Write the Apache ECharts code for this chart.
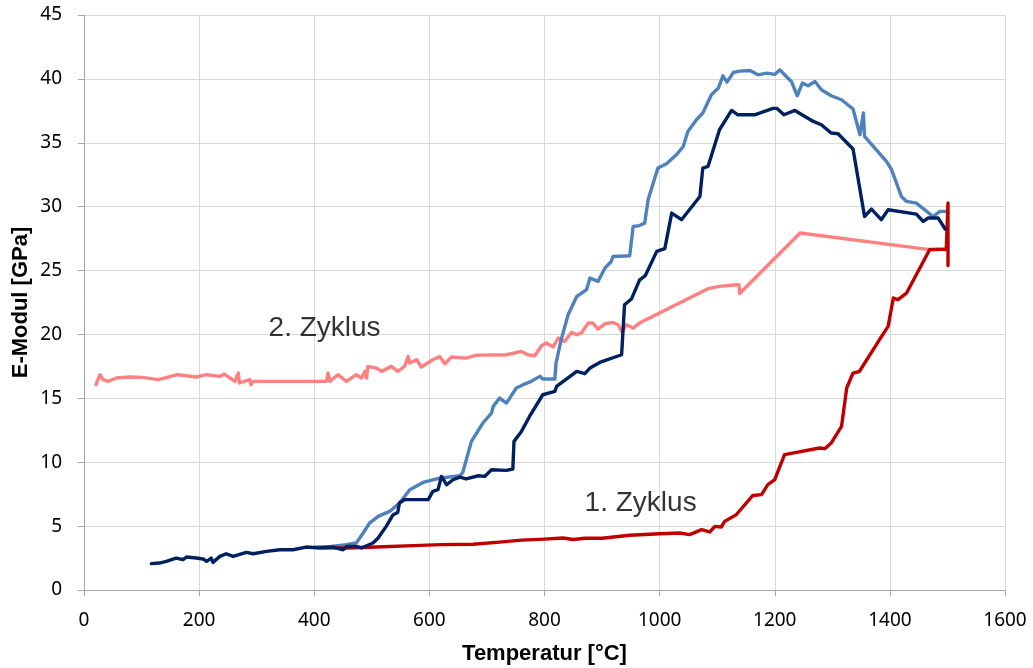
<!DOCTYPE html>
<html>
<head>
<meta charset="utf-8">
<script src="https://cdn.jsdelivr.net/npm/echarts@6/dist/echarts.min.js"></script>
<style>
  html, body { margin: 0; padding: 0; background: #fff; overflow: hidden; }
  #chart { width: 1033px; height: 668px; }
</style>
</head>
<body>
<div id="chart"></div>
<script>
// Temperature [°C] / E-modulus [GPa] pairs for each measurement run
const cycle1Red = [
  [415,3.30],[456,3.29],[520,3.38],[572,3.47],[620,3.55],[676,3.58],[722,3.75],[760,3.90],
  [800,3.98],[832,4.07],[850,3.95],[870,4.05],[900,4.05],[948,4.28],[1000,4.40],[1035,4.46],
  [1052,4.33],[1073,4.72],[1087,4.54],[1096,4.98],[1107,4.93],[1113,5.37],[1133,5.89],
  [1162,7.40],[1177,7.46],[1188,8.24],[1200,8.63],[1217,10.59],[1278,11.11],[1287,11.06],
  [1298,11.50],[1316,12.80],[1325,15.81],[1336,16.98],[1347,17.10],[1382,19.59],[1397,20.63],
  [1406,22.85],[1414,22.72],[1429,23.24],[1469,26.63],[1498,26.68],[1501,30.30],[1501,25.40],
  [1501,26.70]
];

const cycle2Pink = [
  [21,16.07],[24,16.46],[28,16.85],[33,16.46],[42,16.33],[56,16.59],[79,16.67],[102,16.64],
  [129,16.46],[163,16.85],[195,16.67],[213,16.85],[236,16.72],[244,16.90],[262,16.33],
  [268,16.98],[270,16.20],[288,16.46],[290,16.07],[294,16.33],[421,16.33],[424,16.98],
  [427,16.33],[441,16.85],[456,16.33],[473,16.85],[482,16.59],[488,17.11],[491,16.59],
  [493,17.50],[508,17.37],[517,17.11],[534,17.50],[545,17.11],[557,17.50],[563,18.28],
  [566,17.76],[578,18.02],[586,17.45],[606,18.02],[618,18.28],[627,17.70],[638,18.23],
  [664,18.15],[682,18.38],[734,18.41],[760,18.67],[771,18.41],[783,18.33],[795,19.11],
  [803,19.33],[815,19.02],[824,19.72],[835,19.45],[847,20.16],[856,19.98],[864,20.11],
  [876,20.89],[884,20.89],[893,20.42],[905,20.84],[919,20.94],[928,20.76],[935,20.16],
  [942,20.76],[954,20.50],[965,20.89],[1084,23.58],[1104,23.76],[1133,23.89],[1138,23.89],
  [1139,23.20],[1244,27.94],[1466,26.66],[1500,26.70]
];

const runNavy = [
  [117,2.06],[131,2.11],[143,2.24],[160,2.50],[172,2.37],[178,2.58],[195,2.50],[207,2.43],
  [213,2.24],[221,2.50],[224,2.16],[236,2.63],[247,2.84],[259,2.63],[282,2.94],[294,2.84],
  [317,3.02],[340,3.15],[363,3.15],[386,3.36],[410,3.29],[433,3.36],[450,3.15],[456,3.41],
  [473,3.41],[482,3.29],[502,3.68],[511,4.07],[525,4.98],[537,5.89],[545,6.07],[548,6.81],
  [557,7.07],[598,7.07],[606,7.72],[615,7.85],[621,8.89],[630,8.24],[641,8.63],[653,8.84],
  [664,8.69],[685,8.94],[696,8.89],[708,9.41],[734,9.36],[745,9.47],[747,11.63],[760,12.41],
  [774,13.58],[797,15.28],[818,15.54],[821,15.93],[856,17.11],[870,16.93],[879,17.37],
  [896,17.81],[934,18.41],[939,22.32],[951,22.77],[965,24.25],[975,24.60],[995,26.50],
  [1009,26.72],[1021,29.50],[1023,29.63],[1038,28.98],[1070,30.80],[1075,33.02],[1084,33.15],
  [1104,36.02],[1125,37.53],[1136,37.19],[1165,37.19],[1197,37.69],[1204,37.69],[1216,37.19],
  [1235,37.53],[1267,36.67],[1281,36.41],[1298,35.76],[1310,35.71],[1336,34.51],[1356,29.23],
  [1368,29.81],[1385,28.98],[1397,29.76],[1446,29.42],[1458,28.84],[1466,29.11],[1484,29.11],
  [1496,28.25]
];

const runBlue = [
  [400,3.35],[430,3.40],[456,3.54],[473,3.68],[485,4.46],[496,5.24],[511,5.76],[531,6.15],
  [548,6.81],[566,7.85],[589,8.42],[618,8.76],[653,8.94],[658,9.20],[673,11.63],[693,13.07],
  [708,13.85],[711,14.37],[722,15.02],[734,14.63],[751,15.81],[763,16.07],[777,16.33],
  [792,16.72],[797,16.51],[818,16.51],[820,17.76],[829,19.59],[841,21.54],[856,22.97],
  [873,23.50],[879,24.41],[893,24.15],[905,25.20],[916,25.71],[919,26.10],[948,26.16],
  [954,28.45],[965,28.52],[974,28.71],[980,30.54],[997,33.02],[1012,33.36],[1029,34.06],
  [1041,34.71],[1049,35.89],[1064,36.80],[1075,37.33],[1090,38.76],[1102,39.28],[1110,40.24],
  [1117,39.75],[1128,40.50],[1139,40.61],[1157,40.66],[1171,40.32],[1186,40.45],[1200,40.35],
  [1209,40.71],[1220,40.19],[1229,39.80],[1239,38.68],[1248,39.67],[1258,39.46],[1270,39.80],
  [1281,39.15],[1298,38.68],[1316,38.37],[1336,37.64],[1348,35.63],[1354,37.33],[1356,35.50],
  [1394,33.54],[1403,32.89],[1420,30.80],[1429,30.41],[1446,30.28],[1475,29.23],[1487,29.63],
  [1497,29.63]
];

// Cycle captions, anchored in data units
const captionTexts = ['2. Zyklus', '1. Zyklus'];
const captionAnchors = [[418, 20.5], [967, 6.75]];

const xTicks = { min: 0, max: 1600, step: 200 };
const yTicks = { min: 0, max: 45, step: 5 };

const chart = echarts.init(document.getElementById('chart'), null, { renderer: 'canvas' });

const tickFont = { fontFamily: 'Noto Sans', fontSize: 19, color: '#000' };
const nameFont = { fontFamily: 'Liberation Sans', fontSize: 22, fontWeight: 'bold', color: '#000' };
const plainNumber = v => String(v);

function lineSeries(name, data, color) {
  return {
    name, type: 'line', data, showSymbol: false, symbol: 'none',
    lineStyle: { color, width: 3.4, join: 'round', cap: 'round' },
    itemStyle: { color }, animation: false, silent: true, z: 2
  };
}

chart.setOption({
  animation: false,
  backgroundColor: '#fff',
  grid: {
    left: 84, right: 28, top: 15, bottom: 78, containLabel: false,
    outerBounds: { left: -200, right: -200, top: -200, bottom: -200 }
  },
  xAxis: {
    type: 'value', min: xTicks.min, max: xTicks.max, interval: xTicks.step,
    name: 'Temperatur [°C]', nameLocation: 'middle', nameGap: 64, nameMoveOverlap: false,
    nameTextStyle: Object.assign({ verticalAlign: 'middle' }, nameFont),
    axisLine: { show: true, lineStyle: { color: '#A6A6A6', width: 1 } },
    axisTick: { show: true, length: 6, lineStyle: { color: '#A6A6A6' } },
    axisLabel: Object.assign({ margin: 21, formatter: plainNumber }, tickFont),
    splitLine: { show: true, lineStyle: { color: '#D9D9D9', width: 1 } }
  },
  yAxis: {
    type: 'value', min: yTicks.min, max: yTicks.max, interval: yTicks.step,
    name: 'E-Modul [GPa]', nameLocation: 'middle', nameGap: 63, nameRotate: 90, nameMoveOverlap: false,
    nameTextStyle: Object.assign({ verticalAlign: 'middle' }, nameFont),
    axisLine: { show: true, lineStyle: { color: '#A6A6A6', width: 1 } },
    axisTick: { show: true, length: 6, lineStyle: { color: '#A6A6A6' } },
    axisLabel: Object.assign({ margin: 22, formatter: plainNumber }, tickFont),
    splitLine: { show: true, lineStyle: { color: '#D9D9D9', width: 1 } }
  },
  series: [
    lineSeries('2. Zyklus', cycle2Pink, '#FF8080'),
    lineSeries('Messung hell', runBlue, '#4F81BD'),
    lineSeries('1. Zyklus', cycle1Red, '#C00000'),
    lineSeries('Messung dunkel', runNavy, '#002060'),
    {
      name: 'captions', type: 'scatter', silent: true, animation: false,
      symbolSize: 1, itemStyle: { color: 'rgba(0,0,0,0)' },
      data: captionTexts.map((t, i) => ({ name: t, value: captionAnchors[i] })),
      label: {
        show: true, position: 'inside', formatter: '{b}',
        fontFamily: 'Liberation Sans', fontSize: 28, color: '#000',
        textBorderWidth: 0
      },
      z: 5
    }
  ]
});
</script>
</body>
</html>
